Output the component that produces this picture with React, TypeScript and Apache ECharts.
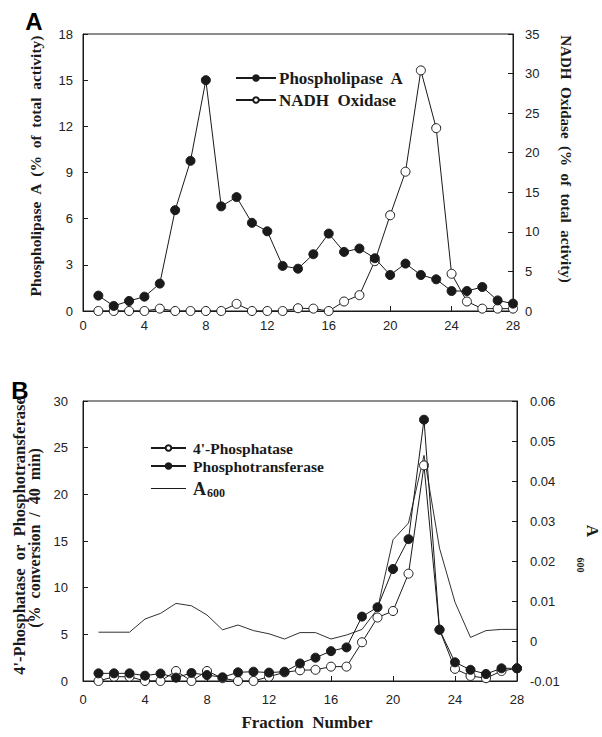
import React, { useEffect, useRef } from "react";
import * as echarts from "echarts";

const fractions = [1, 2, 3, 4, 5, 6, 7, 8, 9, 10, 11, 12, 13, 14, 15, 16, 17, 18, 19, 20, 21, 22, 23, 24, 25, 26, 27, 28];

// Panel A
const phospholipaseA = [1.0, 0.33, 0.65, 0.93, 1.78, 6.55, 9.76, 15.0, 6.8, 7.4, 5.73, 5.18, 2.93, 2.75, 3.69, 5.03, 3.84, 4.06, 3.43, 2.34, 3.08, 2.34, 2.06, 1.3, 1.3, 1.56, 0.69, 0.48];
const nadhOxidase = [0, 0, 0, 0, 0.3, 0, 0, 0, 0, 0.9, 0, 0, 0, 0.35, 0.3, 0, 1.2, 2.0, 6.3, 12.1, 17.6, 30.4, 23.1, 4.7, 1.2, 0.3, 0.3, 0.3];

// Panel B
const phosphatase4 = [0, 0.46, 0.46, 0, 0, 1.07, 0, 1.07, 0.3, 0, 0, 0.46, 0.93, 1.15, 1.2, 1.54, 1.54, 4.15, 6.8, 7.5, 11.5, 23.1, 5.5, 1.3, 0.54, 0.3, 1.07, 1.36];
const phosphotransferase = [0.82, 0.82, 0.82, 0.57, 0.8, 0.36, 0.86, 0.64, 0.4, 0.93, 1.0, 0.9, 1.0, 1.88, 2.5, 3.2, 3.6, 6.9, 7.9, 12.0, 15.2, 28.0, 5.5, 2.0, 1.2, 0.75, 1.36, 1.36];
const a600 = [0.0022, 0.0022, 0.0022, 0.0055, 0.0069, 0.0094, 0.0088, 0.0065, 0.0028, 0.004, 0.0026, 0.0018, 0.0005, 0.0021, 0.0021, 0.0005, 0.0015, 0.0029, 0.008, 0.0253, 0.0295, 0.0464, 0.0232, 0.0097, 0.0009, 0.0026, 0.0029, 0.0029];

const xTicksMax = 28;
const serif = "'Liberation Serif', 'Times New Roman', serif";
const sans = "'Liberation Sans', Arial, Helvetica, sans-serif";
const ink = "#1a1a1a";

const pairs = (vals: number[]) => fractions.map((f, i) => [f, vals[i]]);

export default function App() {
  const ref = useRef<HTMLDivElement>(null);
  useEffect(() => {
    if (!ref.current) return;
    const chart = echarts.init(ref.current, undefined, { renderer: "svg" });
    const axisLabel = { color: "#222", fontFamily: sans, fontSize: 13 };
    const axisLine = { show: true, lineStyle: { color: ink, width: 1 } };
    const axisTick = { show: true, inside: true, length: 5, lineStyle: { color: ink } };
    const xAxisBase = {
      type: "value",
      min: 0,
      max: xTicksMax,
      interval: 4,
      axisLine,
      axisTick,
      splitLine: { show: false },
    };
    const openMarker = { color: "#fff", borderColor: ink, borderWidth: 1 };
    const filledMarker = { color: ink, borderColor: ink, borderWidth: 1 };
    const lineStyle = { color: ink, width: 1 };
    const lineIcon = "path://M0,0 L40,0 Z M0,3 L40,3 L40,4 L0,4 Z M0,7 L40,7 Z";
    chart.setOption({
      animation: false,
      backgroundColor: "#fff",
      grid: [
        { left: 83, right: 89, top: 34, bottom: 426, show: true, borderColor: ink, borderWidth: 1 },
        { left: 83, right: 85, top: 401, bottom: 56, show: true, borderColor: ink, borderWidth: 1 },
      ],
      xAxis: [
        { ...xAxisBase, gridIndex: 0, axisLabel: { ...axisLabel, margin: 8 } },
        { ...xAxisBase, gridIndex: 1, axisLabel: { ...axisLabel, margin: 12 } },
      ],
      yAxis: [
        { type: "value", gridIndex: 0, position: "left", min: 0, max: 18, interval: 3, axisLine, axisTick, splitLine: { show: false }, axisLabel: { ...axisLabel, margin: 10 } },
        { type: "value", gridIndex: 0, position: "right", min: 0, max: 35, interval: 5, axisLine, axisTick, splitLine: { show: false }, axisLabel: { ...axisLabel, margin: 12 } },
        { type: "value", gridIndex: 1, position: "left", min: 0, max: 30, interval: 5, axisLine, axisTick, splitLine: { show: false }, axisLabel: { ...axisLabel, margin: 15 } },
        {
          type: "value", gridIndex: 1, position: "right", min: -0.01, max: 0.06, interval: 0.01, axisLine, axisTick, splitLine: { show: false },
          axisLabel: { ...axisLabel, margin: 13, formatter: (v: number) => String(Number(v.toFixed(2))) },
        },
      ],
      legend: [
        {
          left: 235, top: 69.5, padding: 0, orient: "vertical", itemWidth: 40, itemHeight: 7, itemGap: 5,
          data: ["Phospholipase  A", "NADH  Oxidase"],
          textStyle: { fontFamily: serif, fontWeight: "bold", fontSize: 17, lineHeight: 17, color: ink, padding: [0, 0, 0, -2] },
        },
        {
          left: 150, top: 439, padding: 0, orient: "vertical", itemWidth: 35, itemHeight: 7, itemGap: 0, symbolKeepAspect: false,
          data: ["4'-Phosphatase", "Phosphotransferase", { name: "A600", icon: lineIcon }],
          formatter: (name: string) => (name === "A600" ? "{a|A}{s|600}" : name),
          textStyle: {
            fontFamily: serif, fontWeight: "bold", fontSize: 15.5, lineHeight: 18, color: ink, padding: [0, 0, 0, 2],
            rich: {
              a: { fontFamily: serif, fontWeight: "bold", fontSize: 18, lineHeight: 27, color: ink },
              s: { fontFamily: serif, fontWeight: "bold", fontSize: 12, lineHeight: 27, color: ink, padding: [9, 0, 0, 1] },
            },
          },
        },
      ],
      series: [
        { name: "NADH  Oxidase", type: "line", xAxisIndex: 0, yAxisIndex: 1, data: pairs(nadhOxidase), symbol: "circle", symbolSize: 9, itemStyle: openMarker, lineStyle, z: 2 },
        { name: "Phospholipase  A", type: "line", xAxisIndex: 0, yAxisIndex: 0, data: pairs(phospholipaseA), symbol: "circle", symbolSize: 9, itemStyle: filledMarker, lineStyle, z: 3 },
        { name: "A600", type: "line", xAxisIndex: 1, yAxisIndex: 3, data: pairs(a600), symbol: "none", itemStyle: { color: ink }, lineStyle: { color: ink, width: 0.9 }, z: 1 },
        { name: "4'-Phosphatase", type: "line", xAxisIndex: 1, yAxisIndex: 2, data: pairs(phosphatase4), symbol: "circle", symbolSize: 9, itemStyle: openMarker, lineStyle, z: 2 },
        { name: "Phosphotransferase", type: "line", xAxisIndex: 1, yAxisIndex: 2, data: pairs(phosphotransferase), symbol: "circle", symbolSize: 9, itemStyle: filledMarker, lineStyle, z: 3 },
      ],
      graphic: [
        { type: "text", x: 34, y: 21, style: { text: "A", font: `bold 24px ${sans}`, fill: "#000", align: "center", verticalAlign: "middle" } },
        { type: "text", x: 20, y: 390, style: { text: "B", font: `bold 24px ${sans}`, fill: "#000", align: "center", verticalAlign: "middle" } },
        { type: "text", x: 35, y: 166, rotation: Math.PI / 2, style: { text: "Phospholipase  A  (%  of  total  activity)", font: `bold 15.5px ${serif}`, fill: ink, align: "center", verticalAlign: "middle" } },
        { type: "text", x: 566, y: 159, rotation: -Math.PI / 2, style: { text: "NADH  Oxidase  (%  of  total  activity)", font: `bold 15px ${serif}`, fill: ink, align: "center", verticalAlign: "middle" } },
        { type: "text", x: 19, y: 536, rotation: Math.PI / 2, style: { text: "4'-Phosphatase  or  Phosphotransferase", font: `bold 16.5px ${serif}`, fill: ink, align: "center", verticalAlign: "middle" } },
        { type: "text", x: 34, y: 538, rotation: Math.PI / 2, style: { text: "(%  conversion  /  40  min)", font: `bold 16px ${serif}`, fill: ink, align: "center", verticalAlign: "middle" } },
        { type: "text", x: 592, y: 531, rotation: -Math.PI / 2, style: { text: "A", font: `bold 17px ${serif}`, fill: ink, align: "center", verticalAlign: "middle" } },
        { type: "text", x: 580, y: 565, rotation: -Math.PI / 2, style: { text: "600", font: `bold 10px ${serif}`, fill: ink, align: "center", verticalAlign: "middle" } },
        { type: "text", x: 307, y: 722, style: { text: "Fraction  Number", font: `bold 17px ${serif}`, fill: ink, align: "center", verticalAlign: "middle" } },
      ],
    });
    return () => chart.dispose();
  }, []);
  return <div ref={ref} style={{ position: "fixed", left: 0, top: 0, width: 602, height: 737 }} />;
}
